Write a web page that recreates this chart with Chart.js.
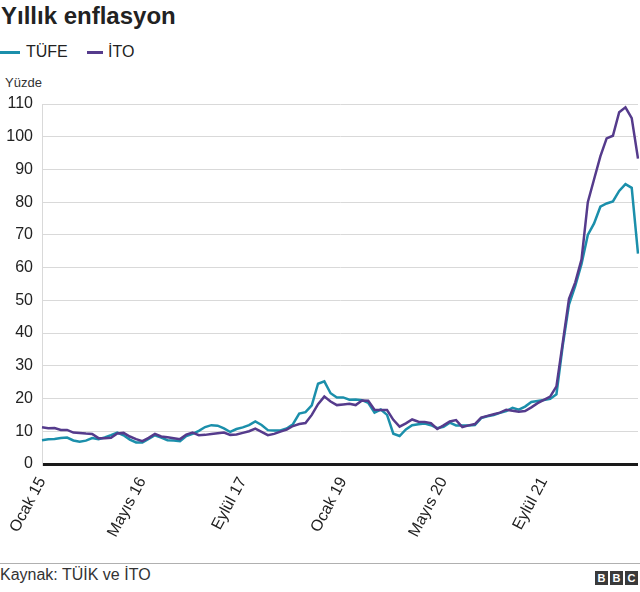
<!DOCTYPE html>
<html>
<head>
<meta charset="utf-8">
<script src="https://cdn.jsdelivr.net/npm/chart.js@4.4.0/dist/chart.umd.min.js"></script>
<style>
  html, body { margin: 0; padding: 0; background: #fff; }
  body { width: 640px; height: 592px; position: relative; overflow: hidden; font-family: "Liberation Sans", Arial, Helvetica, sans-serif; color: #222; }
  #title { position: absolute; left: 1px; top: 4px; font-size: 24px; line-height: 24px; font-weight: bold; color: #222; white-space: nowrap; }
  .leg { position: absolute; top: 44px; font-size: 16px; line-height: 16px; color: #222; white-space: nowrap; }
  .legline { position: absolute; top: 51px; height: 3px; }
  #unit { position: absolute; left: 5px; top: 76px; font-size: 13px; line-height: 13px; color: #333; }
  #wrap { position: absolute; left: 0; top: 90px; width: 640px; height: 472px; }
  #footline { position: absolute; left: 0; top: 563px; width: 640px; height: 1px; background: #b0b0b0; }
  #source { position: absolute; left: 0; top: 567px; font-size: 16px; line-height: 16px; color: #333; white-space: nowrap; }
  #bbc { position: absolute; left: 595px; top: 571px; height: 14px; display: flex; gap: 2px; }
  #bbc span { width: 13px; height: 14px; background: #3a3a3a; color: #fff; font-weight: bold; font-size: 11px; line-height: 14px; text-align: center; display: block; }
</style>
</head>
<body>
<div id="title">Yıllık enflasyon</div>
<div class="legline" style="left:0;width:20px;background:#1b8fab"></div>
<div class="leg" style="left:26px">TÜFE</div>
<div class="legline" style="left:87px;width:16px;background:#553b8c"></div>
<div class="leg" style="left:108px">İTO</div>
<div id="unit">Yüzde</div>
<div id="wrap"><canvas id="c"></canvas></div>
<div id="footline"></div>
<div id="source">Kaynak: TÜİK ve İTO</div>
<div id="bbc"><span>B</span><span>B</span><span>C</span></div>
<script>
// ---- data ----
const monthNames = ["Ocak","Şubat","Mart","Nisan","Mayıs","Haziran","Temmuz","Ağustos","Eylül","Ekim","Kasım","Aralık"];
const years = ["15","16","17","18","19","20","21","22"];
const tickLabels = ["Ocak 15","Mayıs 16","Eylül 17","Ocak 19","Mayıs 20","Eylül 21"];

const tufe = [
  7.24, 7.55, 7.61, 7.91, 8.09, 7.20, 6.81, 7.14, 7.95, 7.58, 8.10, 8.81,
  9.58, 8.78, 7.46, 6.57, 6.58, 7.64, 8.79, 8.05, 7.28, 7.16, 7.00, 8.53,
  9.22, 10.13, 11.29, 11.87, 11.72, 10.90, 9.79, 10.68, 11.20, 11.90, 12.98, 11.92,
  10.35, 10.26, 10.23, 10.85, 12.15, 15.39, 15.85, 17.90, 24.52, 25.24, 21.62, 20.30,
  20.35, 19.67, 19.71, 19.50, 18.71, 15.72, 16.65, 15.01, 9.26, 8.55, 10.56, 11.84,
  12.15, 12.37, 11.86, 10.94, 11.39, 12.62, 11.76, 11.77, 11.75, 11.89, 14.03, 14.60,
  14.97, 15.61, 16.19, 17.14, 16.59, 17.53, 18.95, 19.25, 19.58, 19.89, 21.31, 36.08,
  48.69, 54.44, 61.14, 69.97, 73.50, 78.62, 79.60, 80.21, 83.45, 85.51, 84.39, 64.27
];

const ito = [
  11.2, 10.9, 11.0, 10.4, 10.4, 9.6, 9.5, 9.3, 9.2, 7.9, 7.9, 8.0,
  9.3, 9.5, 8.4, 7.6, 7.0, 8.0, 9.2, 8.4, 8.2, 7.9, 7.6, 9.0,
  9.6, 8.8, 8.9, 9.2, 9.4, 9.6, 8.9, 9.0, 9.5, 10.0, 10.8, 9.8,
  8.8, 9.2, 9.9, 10.5, 11.6, 12.2, 12.5, 15.0, 18.3, 20.6, 19.1, 18.0,
  18.2, 18.4, 18.0, 19.4, 19.3, 16.6, 16.5, 16.5, 13.5, 11.4, 12.4, 13.6,
  12.9, 12.8, 12.5, 10.7, 11.8, 13.0, 13.4, 11.3, 11.8, 12.2, 14.2, 14.7,
  15.2, 15.7, 16.6, 16.3, 16.0, 16.2, 17.3, 18.6, 19.6, 20.6, 23.7, 37.0,
  50.5, 55.5, 62.5, 80.0, 87.0, 94.0, 99.5, 100.3, 107.5, 109.0, 105.7, 93.3
];

const categories = [];
years.forEach(y => monthNames.forEach(m => categories.push(m + " " + y)));

const TEAL = "#1b8fab";
const PURPLE = "#553b8c";

new Chart(document.getElementById("c"), {
  type: "line",
  data: {
    labels: categories,
    datasets: [
      { label: "İTO", data: ito, borderColor: PURPLE, backgroundColor: PURPLE, borderWidth: 2.5, pointRadius: 0, tension: 0, fill: false },
      { label: "TÜFE", data: tufe, borderColor: TEAL, backgroundColor: TEAL, borderWidth: 2.5, pointRadius: 0, tension: 0, fill: false }
    ]
  },
  options: {
    responsive: true,
    maintainAspectRatio: false,
    animation: false,
    events: [],
    layout: { padding: { top: 14, right: 2, left: 0, bottom: 0 } },
    plugins: { legend: { display: false }, tooltip: { enabled: false }, title: { display: false } },
    scales: {
      x: {
        type: "category",
        offset: false,
        grid: { display: false, drawTicks: false },
        border: { display: false },
        ticks: {
          autoSkip: false,
          maxRotation: 62,
          minRotation: 62,
          padding: 10,
          color: "#222",
          font: { family: "'Liberation Sans', Arial, sans-serif", size: 16 },
          callback: function (val, idx) {
            const lab = categories[idx];
            return tickLabels.includes(lab) ? lab : "";
          }
        },
        afterFit: function (scale) {
          scale.height = 98;
          scale.paddingRight = 0;
          scale.paddingLeft = 0;
        }
      },
      y: {
        min: 0,
        max: 110,
        grid: {
          drawTicks: false,
          color: ctx => (ctx.tick && ctx.tick.value === 0) ? "#1a1a1a" : "#d9d9d9",
          lineWidth: ctx => (ctx.tick && ctx.tick.value === 0) ? 3 : 1
        },
        border: { display: true, color: "#d9d9d9", width: 1 },
        ticks: {
          stepSize: 10,
          padding: 9,
          color: "#222",
          font: { family: "'Liberation Sans', Arial, sans-serif", size: 16 }
        },
        afterFit: function (scale) {
          scale.width = 42;
          scale.paddingTop = 0;
          scale.paddingBottom = 0;
        }
      }
    }
  }
});
</script>
</body>
</html>
